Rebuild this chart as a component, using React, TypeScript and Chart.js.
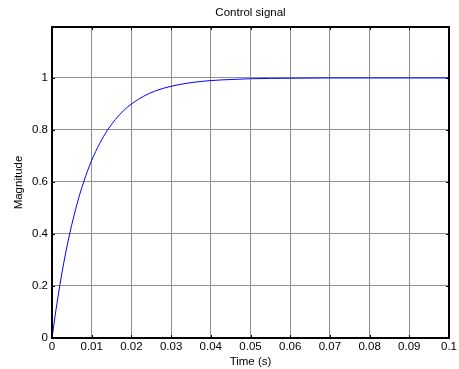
import React, { useEffect, useRef } from "react";
import { Chart, registerables } from "chart.js";

Chart.register(...registerables);

const titleText = "Control signal";
const xLabel = "Time (s)";
const yLabel = "Magnitude";

const timeValues = [
  0, 0.001, 0.002, 0.003, 0.004, 0.005, 0.006, 0.007, 0.008, 0.009, 0.01,
  0.012, 0.014, 0.016, 0.018, 0.02, 0.023, 0.026, 0.03, 0.035, 0.04, 0.045,
  0.05, 0.06, 0.07, 0.08, 0.09, 0.1,
];
const magnitudeValues = [
  0, 0.108, 0.205, 0.292, 0.369, 0.437, 0.498, 0.553, 0.601, 0.645, 0.683,
  0.748, 0.8, 0.841, 0.874, 0.9, 0.929, 0.95, 0.968, 0.982, 0.99, 0.994,
  0.997, 0.999, 1.0, 1.0, 1.0, 1.0,
];
const xTickValues = [0, 0.01, 0.02, 0.03, 0.04, 0.05, 0.06, 0.07, 0.08, 0.09, 0.1];
const xTickLabels = ["0", "0.01", "0.02", "0.03", "0.04", "0.05", "0.06", "0.07", "0.08", "0.09", "0.1"];
const yTickValues = [0, 0.2, 0.4, 0.6, 0.8, 1];
const yTickLabels = ["0", "0.2", "0.4", "0.6", "0.8", "1"];

const FONT = "Arial, 'Liberation Sans', Helvetica, sans-serif";

const framePlugin = {
  id: "matlabFrame",
  afterDraw(chart: any) {
    const { ctx, chartArea } = chart;
    const { left, right, top, bottom } = chartArea;
    const xs = chart.scales.x;
    const ys = chart.scales.y;
    ctx.save();
    ctx.strokeStyle = "#000000";
    ctx.lineWidth = 1;
    const tl = 3;
    ctx.beginPath();
    xTickValues.forEach((v) => {
      const px = Math.round(xs.getPixelForValue(v)) + 0.5;
      ctx.moveTo(px, bottom);
      ctx.lineTo(px, bottom - tl);
      ctx.moveTo(px, top);
      ctx.lineTo(px, top + tl);
    });
    yTickValues.forEach((v) => {
      const py = Math.round(ys.getPixelForValue(v)) + 0.5;
      ctx.moveTo(left, py);
      ctx.lineTo(left + tl, py);
      ctx.moveTo(right, py);
      ctx.lineTo(right - tl, py);
    });
    ctx.stroke();
    ctx.lineWidth = 2;
    ctx.strokeRect(left, top, right - left, bottom - top);
    ctx.fillStyle = "#000000";
    ctx.font = `11.5px ${FONT}`;
    ctx.textAlign = "center";
    ctx.textBaseline = "middle";
    ctx.fillText(titleText, (left + right) / 2, 13);
    ctx.restore();
  },
};

export default function App() {
  const canvasRef = useRef<HTMLCanvasElement | null>(null);

  useEffect(() => {
    if (!canvasRef.current) return;
    const points = timeValues.map((t, i) => ({ x: t, y: magnitudeValues[i] }));
    const chart = new Chart(canvasRef.current, {
      type: "line",
      data: {
        datasets: [
          {
            data: points,
            borderColor: "#0000ff",
            borderWidth: 1,
            pointRadius: 0,
            tension: 0.4,
            cubicInterpolationMode: "monotone",
            fill: false,
          },
        ],
      },
      options: {
        responsive: false,
        animation: false,
        events: [],
        layout: { padding: { left: 0, right: 9, top: 27, bottom: 0 } },
        plugins: {
          legend: { display: false },
          title: { display: false },
          tooltip: { enabled: false },
        },
        scales: {
          x: {
            type: "linear",
            min: 0,
            max: 0.1,
            afterFit: (scale: any) => {
              scale.height = 31;
            },
            afterBuildTicks: (scale: any) => {
              scale.ticks = xTickValues.map((v) => ({ value: v }));
            },
            grid: { color: "#8f8f8f", lineWidth: 1, drawTicks: false },
            border: { display: false },
            ticks: {
              autoSkip: false,
              maxRotation: 0,
              padding: 2,
              color: "#000000",
              font: { family: FONT, size: 11.5 },
              callback: (value: any) => {
                const i = xTickValues.findIndex((v) => Math.abs(v - value) < 1e-9);
                return i >= 0 ? xTickLabels[i] : "";
              },
            },
            title: {
              display: true,
              text: xLabel,
              color: "#000000",
              font: { family: FONT, size: 11.5 },
              padding: { top: 0, bottom: 0 },
            },
          },
          y: {
            type: "linear",
            min: 0,
            max: 1.196,
            afterFit: (scale: any) => {
              scale.width = 52;
            },
            afterBuildTicks: (scale: any) => {
              scale.ticks = yTickValues.map((v) => ({ value: v }));
            },
            grid: { color: "#8f8f8f", lineWidth: 1, drawTicks: false },
            border: { display: false },
            ticks: {
              autoSkip: false,
              padding: 4,
              color: "#000000",
              font: { family: FONT, size: 11.5 },
              callback: (value: any) => {
                const i = yTickValues.findIndex((v) => Math.abs(v - value) < 1e-9);
                return i >= 0 ? yTickLabels[i] : "";
              },
            },
            title: {
              display: true,
              text: yLabel,
              color: "#000000",
              font: { family: FONT, size: 11.5 },
              padding: { top: 12, bottom: 0 },
            },
          },
        },
      },
      plugins: [framePlugin],
    });
    return () => chart.destroy();
  }, []);

  return (
    <div
      style={{
        position: "fixed",
        left: 0,
        top: 0,
        width: 459,
        height: 369,
        background: "#ffffff",
      }}
    >
      <canvas ref={canvasRef} width={459} height={369} />
    </div>
  );
}
